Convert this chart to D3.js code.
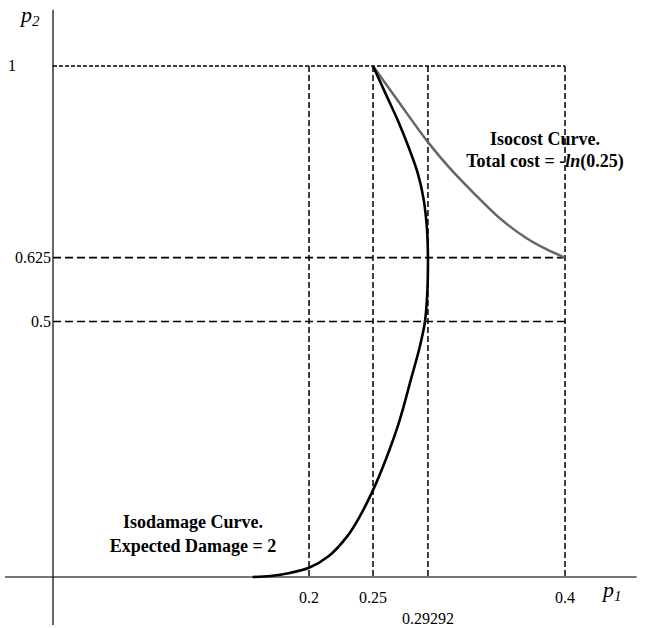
<!DOCTYPE html>
<html>
<head>
<meta charset="utf-8">
<script src="https://cdn.jsdelivr.net/npm/d3@7/dist/d3.min.js"></script>
<style>
  body { margin: 0; background: #fff; }
  svg text { font-family: "Liberation Serif", "Times New Roman", serif; }
</style>
</head>
<body>
<script>
    // window size
    var width = 657, height = 628;

    // tick positions on each axis
    var xTicks = [0.2, 0.25, 0.4];
    var xTickLow = [0.29292];
    var yTicks = [1, 0.625, 0.5];

    // isodamage curve (expected damage = 2)
    var damageP1 = [0.156, 0.17, 0.185, 0.2, 0.215, 0.23, 0.24, 0.25, 0.26, 0.27, 0.28, 0.2865, 0.2906, 0.2925, 0.29292, 0.2922, 0.2895, 0.285, 0.278, 0.27, 0.26, 0.25];
    var damageP2 = [0.0, 0.002, 0.008, 0.018, 0.04, 0.08, 0.12, 0.17, 0.23, 0.30, 0.39, 0.45, 0.5, 0.56, 0.625, 0.68, 0.74, 0.79, 0.84, 0.89, 0.945, 1.0];

    // isocost curve (total cost = -ln(0.25))
    var costP1 = [0.25, 0.27, 0.29292, 0.31, 0.33, 0.35, 0.37, 0.385, 0.4];
    var costP2 = [1.0, 0.93, 0.851, 0.80, 0.748, 0.70, 0.663, 0.642, 0.625];

    // scales: p1 = 0 sits at x = 53, p2 = 0 at y = 577
    var x = d3.scaleLinear().domain([0, 0.4]).range([53, 565]);
    var y = d3.scaleLinear().domain([0, 1]).range([577, 66]);

    var svg = d3.select("body").append("svg")
        .attr("width", width)
        .attr("height", height);

    // reference lines
    var guides = svg.append("g")
        .attr("stroke", "#000")
        .attr("fill", "none");

    // horizontal dashed lines
    yTicks.forEach(function (v) {
        guides.append("line")
            .attr("x1", x(0)).attr("x2", x(0.4))
            .attr("y1", y(v)).attr("y2", y(v))
            .attr("stroke-width", v == 1 ? 1.3 : 1.6)
            .attr("stroke-dasharray", v == 1 ? "4,2" : "8,4");
    });

    // vertical dashed lines
    xTicks.concat(xTickLow).forEach(function (v) {
        guides.append("line")
            .attr("x1", x(v)).attr("x2", x(v))
            .attr("y1", y(1)).attr("y2", y(0))
            .attr("stroke-width", 1.5)
            .attr("stroke-dasharray", "6,3");
    });

    // axes
    svg.append("line")
        .attr("x1", x(-0.0375)).attr("x2", x(0.456))
        .attr("y1", y(0)).attr("y2", y(0))
        .attr("stroke", "#777").attr("stroke-width", 2);

    svg.append("line")
        .attr("x1", x(0)).attr("x2", x(0))
        .attr("y1", y(1.11)).attr("y2", y(-0.094))
        .attr("stroke", "#000").attr("stroke-width", 1.2);

    // curves
    var line = d3.line()
        .x(function (d) { return x(d[0]); })
        .y(function (d) { return y(d[1]); })
        .curve(d3.curveCatmullRom.alpha(0.5));

    svg.append("path")
        .datum(d3.zip(costP1, costP2))
        .attr("d", line)
        .attr("fill", "none")
        .attr("stroke", "#666")
        .attr("stroke-width", 2.5);

    svg.append("path")
        .datum(d3.zip(damageP1, damageP2))
        .attr("d", line)
        .attr("fill", "none")
        .attr("stroke", "#000")
        .attr("stroke-width", 2.6);

    // tick labels
    svg.selectAll(".xt")
        .data(xTicks)
        .enter().append("text")
        .attr("x", function (d) { return x(d); })
        .attr("y", y(0) + 26)
        .attr("text-anchor", "middle")
        .attr("font-size", 16)
        .text(function (d) { return d; });

    svg.selectAll(".xl")
        .data(xTickLow)
        .enter().append("text")
        .attr("x", function (d) { return x(d); })
        .attr("y", y(0) + 47)
        .attr("text-anchor", "middle")
        .attr("font-size", 16)
        .text(function (d) { return d; });

    svg.selectAll(".yt")
        .data(yTicks)
        .enter().append("text")
        .attr("x", function (d) { return d == 1 ? 8 : x(0) - 2; })
        .attr("y", function (d) { return y(d) + 5; })
        .attr("text-anchor", function (d) { return d == 1 ? "start" : "end"; })
        .attr("font-size", 16)
        .text(function (d) { return d; });

    // axis titles
    var t2 = svg.append("text").attr("x", 21).attr("y", 22)
        .attr("font-size", 22).attr("font-style", "italic");
    t2.append("tspan").text("p");
    t2.append("tspan").attr("font-size", 15).attr("dy", 4).text("2");

    var t1 = svg.append("text").attr("x", 603).attr("y", 597)
        .attr("font-size", 22).attr("font-style", "italic");
    t1.append("tspan").text("p");
    t1.append("tspan").attr("font-size", 15).attr("dy", 4).text("1");

    // curve labels
    function label(cx, cy, parts) {
        var t = svg.append("text")
            .attr("x", cx).attr("y", cy)
            .attr("text-anchor", "middle")
            .attr("font-size", 18)
            .attr("font-weight", "bold");
        parts.forEach(function (p) {
            t.append("tspan").attr("font-style", p[1] ? "italic" : "normal").text(p[0]);
        });
    }

    label(545, 145, [["Isocost Curve.", false]]);
    label(545, 167, [["Total cost = -", false], ["ln", true], ["(0.25)", false]]);
    label(193, 528, [["Isodamage Curve.", false]]);
    label(193, 552, [["Expected Damage = 2", false]]);
</script>
</body>
</html>
